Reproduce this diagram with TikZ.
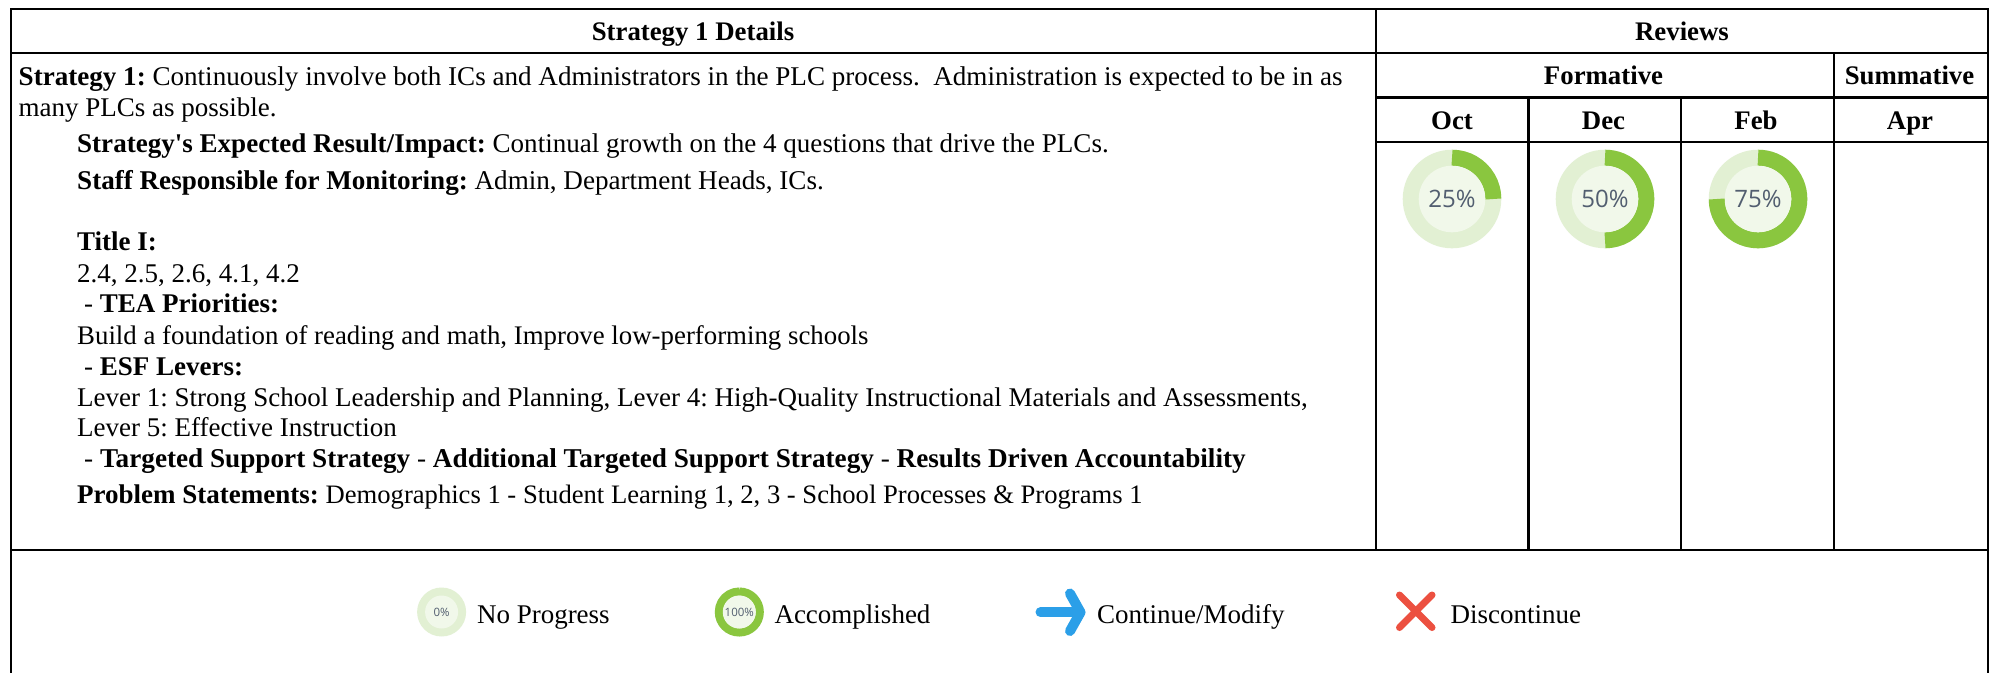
\documentclass[tikz,border=0pt]{standalone}
\usepackage{fontspec}
\setmainfont{Liberation Serif}[Ligatures=TeXOff]
\newfontfamily\ringfont{Open Sans}
\definecolor{ringlight}{HTML}{E2F0D3}
\definecolor{ringdark}{HTML}{8AC63F}
\definecolor{ringcore}{HTML}{F1F8EA}
\definecolor{ringtext}{HTML}{525E70}
\definecolor{arrowblue}{HTML}{2B9FE8}
\definecolor{crossred}{HTML}{EC5040}
\tikzset{
  gridline/.style={line width=2.4pt,black,line cap=rect},
  txt/.style={anchor=base west,inner sep=0pt,font=\frenchspacing\fontsize{#1}{30}\selectfont},
  txt/.default=27,
  head/.style={anchor=base,inner sep=0pt,font=\fontsize{26.8}{30}\selectfont\bfseries},
}
\newcommand{\progressring}[7]{% name, x, y, r outer, band, pct, font size
  \fill[ringlight] (#2,#3) circle (#4);
  \pgfmathsetmacro{\ringmid}{#4-#5/2}
  \pgfmathsetmacro{\ringend}{90-3.6*#6}
  \draw[ringdark,line width=#5 pt] (#2,#3) ++(90:\ringmid) arc[start angle=90,end angle=\ringend,radius=\ringmid];
  \fill[ringcore] (#2,#3) circle ({#4-#5});
  \node[inner sep=0pt,text=ringtext,font=\ringfont\fontsize{#7}{#7}\selectfont] (#1) at (#2,#3) {#6\%};
}
\begin{document}
\begin{tikzpicture}[x=1pt,y=1pt]
\useasboundingbox (0,0) rectangle (1993,-672);
\fill[white] (0,0) rectangle (1993,-672);
% grid
\draw[gridline] (11,-672) -- (11,-9) -- (1988,-9) -- (1988,-672);
\draw[gridline] (11,-53) -- (1988,-53);
\draw[gridline] (1376,-97.5) -- (1988,-97.5);
\draw[gridline] (1376,-142) -- (1988,-142);
\draw[gridline] (11,-550) -- (1988,-550);
\draw[gridline] (1376,-9) -- (1376,-550);
\draw[gridline] (1528.3,-97.5) -- (1528.3,-550);
\draw[gridline] (1681,-97.5) -- (1681,-550);
\draw[gridline] (1833.7,-53) -- (1833.7,-550);
% headers
\node[head] (h1) at (693,-40.7) {Strategy 1 Details};
\node[head] (h2) at (1682,-40.7) {Reviews};
\node[head] (h3) at (1603.5,-84.5) {Formative};
\node[head] (h4) at (1909.5,-84.5) {Summative};
\node[head] (h5) at (1452,-129) {Oct};
\node[head] (h6) at (1603.5,-129) {Dec};
\node[head] (h7) at (1756,-129) {Feb};
\node[head] (h8) at (1910,-129) {Apr};
% body
\node[txt=27.08] (t1) at (18.5,-85) {\textbf{Strategy 1:} Continuously involve both ICs and Administrators in the PLC process.\ \ Administration is expected to be in as};
\node[txt] (t2) at (18.5,-116.7) {many PLCs as possible.};
\node[txt=27.05] (t3) at (77,-152.7) {\textbf{Strategy's Expected Result/Impact:} Continual growth on the 4 questions that drive the PLCs.};
\node[txt=27.1] (t4) at (77,-189) {\textbf{Staff Responsible for Monitoring:} Admin, Department Heads, ICs.};
\node[txt] (t5) at (77,-250.7) {\textbf{Title I:}};
\node[txt] (t6) at (77,-282.3) {2.4, 2.5, 2.6, 4.1, 4.2};
\node[txt] (t7) at (84,-312.7) {- \textbf{TEA Priorities:}};
\node[txt=26.83] (t8) at (77,-344) {Build a foundation of reading and math, Improve low-performing schools};
\node[txt] (t9) at (84,-375) {- \textbf{ESF Levers:}};
\node[txt] (t10) at (77,-406) {Lever 1: Strong School Leadership and Planning, Lever 4: High-Quality Instructional Materials and Assessments,};
\node[txt] (t11) at (77,-436.7) {Lever 5: Effective Instruction};
\node[txt=27.2] (t12) at (84,-467.7) {- \textbf{Targeted Support Strategy} - \textbf{Additional Targeted Support Strategy} - \textbf{Results Driven Accountability}};
\node[txt] (t13) at (77,-503.3) {\textbf{Problem Statements:} {\fontsize{26.62}{30}\selectfont Demographics 1 - Student Learning 1, 2, 3 - School Processes \& Programs 1}};
% rings
\progressring{r25}{1452}{-199}{49.3}{16}{25}{24}
\progressring{r50}{1605}{-199}{49.3}{16}{50}{24}
\progressring{r75}{1758}{-199}{49.3}{16}{75}{24}
\progressring{r0}{441.6}{-612}{24.5}{8}{0}{11.5}
\progressring{r100}{739.3}{-612}{24.5}{8}{100}{11.5}
% legend
\node[txt] (l1) at (476.8,-623) {No Progress};
\node[txt] (l2) at (774.3,-623) {Accomplished};
\node[txt] (l3) at (1096.8,-623) {Continue/Modify};
\node[txt] (l4) at (1450.3,-623) {Discontinue};
\draw[arrowblue,line width=10pt,line cap=round,line join=round] (1040.5,-612.3) -- (1080,-612.3);
\draw[arrowblue,line width=10pt,line cap=round,line join=round] (1070,-593.5) -- (1080.5,-612.3) -- (1070,-631);
\draw[crossred,line width=7pt,line cap=round] (1399.5,-595) -- (1432,-627.5);
\draw[crossred,line width=7pt,line cap=round] (1432,-595) -- (1399.5,-627.5);
\end{tikzpicture}
\end{document}
